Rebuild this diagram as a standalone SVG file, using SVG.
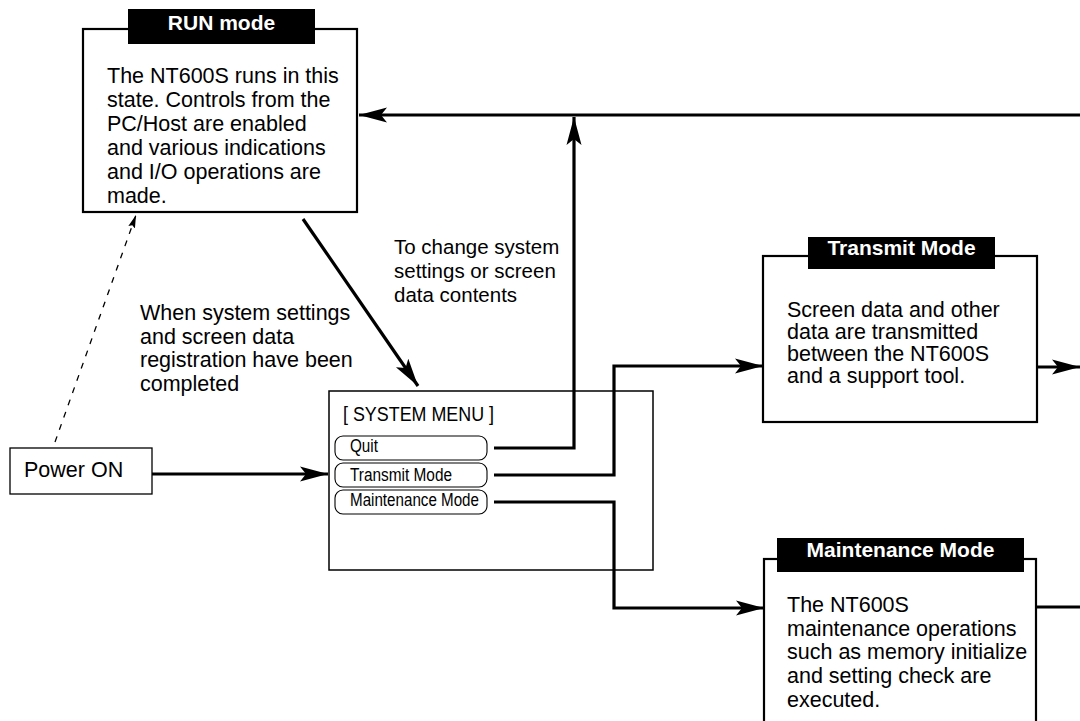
<svg xmlns="http://www.w3.org/2000/svg" width="1080" height="721" viewBox="0 0 1080 721">
<style>
  .box { fill: #fff; stroke: #000; stroke-width: 2.2; }
  .thin { fill: #fff; stroke: #000; stroke-width: 1.5; }
  .btn { fill: #fff; stroke: #000; stroke-width: 1.1; }
  .title { fill: #000; }
  .tt { font-family: "Liberation Sans", Arial, sans-serif; font-weight: bold; font-size: 21px; fill: #fff; text-anchor: middle; }
  .body { font-family: "Liberation Sans", Arial, sans-serif; font-size: 21.5px; fill: #000; }
  .lbl { font-family: "Liberation Sans", Arial, sans-serif; font-size: 20.5px; fill: #000; }
  .menu { font-family: "Liberation Sans", Arial, sans-serif; fill: #000; }
  .conn { fill: none; stroke: #000; stroke-width: 3.2; stroke-linejoin: miter; }
  .dash { fill: none; stroke: #000; stroke-width: 1.3; stroke-dasharray: 6 7; }
</style>
<defs>
  <marker id="arr" markerUnits="userSpaceOnUse" markerWidth="30" markerHeight="20" viewBox="0 -10 30 20" refX="28" refY="0" orient="auto">
    <path d="M0,-7.5 L28,0 L0,7.5 L6,0 Z" fill="#000"/>
  </marker>
  <marker id="arrs" markerUnits="userSpaceOnUse" markerWidth="14" markerHeight="10" viewBox="0 -5 14 10" refX="13" refY="0" orient="auto">
    <path d="M0,-3.5 L13,0 L0,3.5 L2,0 Z" fill="#000"/>
  </marker>
</defs>

<g id="run-mode">
  <rect class="box" x="83" y="29" width="274" height="183"/>
  <rect class="title" x="128" y="9" width="187" height="35"/>
  <text class="tt" x="221.5" y="30">RUN mode</text>
  <text class="body" x="107" y="83">The NT600S runs in this</text>
  <text class="body" x="107" y="107">state. Controls from the</text>
  <text class="body" x="107" y="131">PC/Host are enabled</text>
  <text class="body" x="107" y="155">and various indications</text>
  <text class="body" x="107" y="179">and I/O operations are</text>
  <text class="body" x="107" y="203">made.</text>
</g>

<g id="transmit-mode">
  <rect class="box" x="763" y="256" width="274" height="166"/>
  <rect class="title" x="808" y="237" width="187" height="32"/>
  <text class="tt" x="901.5" y="255">Transmit Mode</text>
  <text class="body" x="787" y="317">Screen data and other</text>
  <text class="body" x="787" y="339">data are transmitted</text>
  <text class="body" x="787" y="361">between the NT600S</text>
  <text class="body" x="787" y="383">and a support tool.</text>
</g>

<g id="maintenance-mode">
  <rect class="box" x="764" y="559" width="272" height="190"/>
  <rect class="title" x="777" y="538" width="247" height="34"/>
  <text class="tt" x="900.5" y="557">Maintenance Mode</text>
  <text class="body" x="787" y="612">The NT600S</text>
  <text class="body" x="787" y="636">maintenance operations</text>
  <text class="body" x="787" y="659">such as memory initialize</text>
  <text class="body" x="787" y="683">and setting check are</text>
  <text class="body" x="787" y="707">executed.</text>
</g>

<g id="system-menu">
  <rect class="thin" x="329" y="391" width="324" height="179"/>
  <text class="menu" x="343" y="421" font-size="21" textLength="151" lengthAdjust="spacingAndGlyphs">[ SYSTEM MENU ]</text>
  <rect class="btn" x="335" y="436" width="152" height="24" rx="8" ry="8"/>
  <text class="menu" x="350" y="452" font-size="17.5" textLength="28" lengthAdjust="spacingAndGlyphs">Quit</text>
  <rect class="btn" x="335" y="463" width="152" height="24" rx="8" ry="8"/>
  <text class="menu" x="350" y="480.5" font-size="17.5" textLength="102" lengthAdjust="spacingAndGlyphs">Transmit Mode</text>
  <rect class="btn" x="335" y="490" width="152" height="24" rx="8" ry="8"/>
  <text class="menu" x="350" y="506" font-size="17.5" textLength="129" lengthAdjust="spacingAndGlyphs">Maintenance Mode</text>
</g>

<g id="power-on">
  <rect class="thin" x="10" y="448" width="142" height="46" style="stroke-width:1.3"/>
  <text class="body" x="24" y="477" font-size="21">Power ON</text>
</g>

<g id="labels">
  <text class="body" x="140" y="320">When system settings</text>
  <text class="body" x="140" y="344">and screen data</text>
  <text class="body" x="140" y="367">registration have been</text>
  <text class="body" x="140" y="391">completed</text>
  <text class="lbl" x="394" y="254">To change system</text>
  <text class="lbl" x="394" y="278">settings or screen</text>
  <text class="lbl" x="394" y="302">data contents</text>
</g>

<g id="connectors">
  <line class="conn" x1="1080" y1="115" x2="359" y2="115" marker-end="url(#arr)"/>
  <polyline class="conn" points="494,448 574,448 574,117" marker-end="url(#arr)"/>
  <polyline class="conn" points="494,475 614,475 614,366 763,366" marker-end="url(#arr)"/>
  <polyline class="conn" points="494,502 614,502 614,608 764,608" marker-end="url(#arr)"/>
  <line class="conn" x1="152" y1="474" x2="328" y2="474" marker-end="url(#arr)"/>
  <line class="conn" x1="303" y1="219" x2="418" y2="386" marker-end="url(#arr)"/>
  <line class="conn" x1="1037" y1="367" x2="1080" y2="367" marker-end="url(#arr)"/>
  <line class="conn" x1="1036" y1="607" x2="1080" y2="607"/>
  <line class="dash" x1="55" y1="442" x2="136" y2="215" marker-end="url(#arrs)"/>
</g>
</svg>
